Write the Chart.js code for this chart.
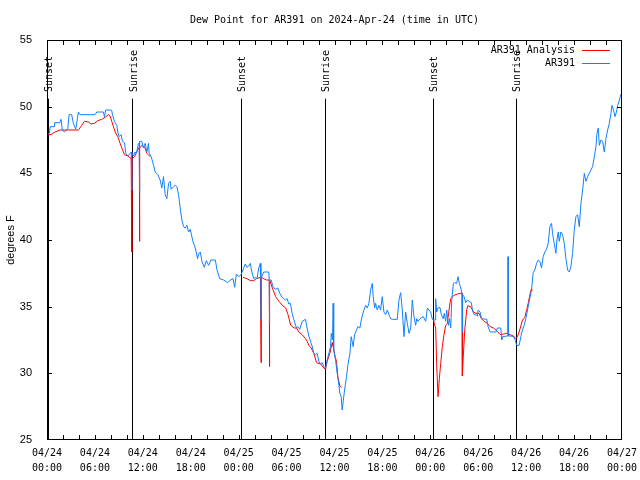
<!DOCTYPE html>
<html><head><meta charset="utf-8">
<script src="https://cdn.jsdelivr.net/npm/chart.js@4/dist/chart.umd.min.js"></script>
<style>html,body{margin:0;padding:0;background:#fff}</style>
</head><body>
<canvas id="c" width="640" height="480"></canvas>
<script>
// ---------- data ----------
const chartTitle = 'Dew Point for AR391 on 2024-Apr-24 (time in UTC)';
const yAxisTitle = 'degrees F';
// x in hours since 04/24 00:00 UTC
const xTickDates = ['04/24','04/24','04/24','04/24','04/25','04/25','04/25','04/25','04/26','04/26','04/26','04/26','04/27'];
const xTickTimes = ['00:00','06:00','12:00','18:00','00:00','06:00','12:00','18:00','00:00','06:00','12:00','18:00','00:00'];
const eventHours  = [0.15, 10.70, 24.25, 34.79, 48.33, 58.74];
const eventLabels = ['Sunset','Sunrise','Sunset','Sunrise','Sunset','Sunrise'];
const seriesNames = ['AR391 Analysis','AR391'];

const blueHours = [0.15,0.3,0.4,0.9,0.95,1.6,1.76,1.92,2.17,2.47,2.6,2.76,3.09,3.30,3.60,3.93,4.14,6.02,6.23,7.07,7.19,7.36,7.90,8.11,8.20,8.45,8.74,8.86,9.03,9.28,9.45,9.70,9.87,10.12,10.41,10.55,10.60,10.64,10.83,11.0,11.2,11.46,11.55,11.58,11.62,11.87,12.08,12.29,12.50,12.71,12.79,13.05,13.34,13.55,13.88,14.17,14.38,14.59,14.80,15.01,15.22,15.43,15.55,15.85,16.06,16.27,16.47,16.68,16.89,17.10,17.31,17.52,17.73,17.94,
18.27,18.57,18.86,18.99,19.19,19.40,19.70,19.95,20.24,20.53,21.08,21.29,21.62,22.12,22.62,22.96,23.29,23.50,23.71,24.0,24.30,24.63,24.84,25.05,25.26,25.47,25.59,25.88,26.09,26.30,26.51,26.72,26.78,26.80,26.84,27.14,27.77,27.83,27.85,27.89,28.06,28.31,28.60,28.90,29.15,29.44,29.65,29.86,30.07,30.27,30.48,30.69,30.90,31.24,31.40,31.65,31.95,32.37,32.57,32.78,33.08,33.20,33.41,33.62,33.83,34.04,34.25,34.46,34.67,34.87,35.08,35.29,35.50,35.6,35.75,35.83,35.9,
36.13,36.34,36.55,36.67,36.84,36.96,37.09,37.26,37.51,37.67,37.93,38.09,38.34,38.51,38.76,38.93,39.18,39.35,39.60,39.89,40.10,40.31,40.52,40.73,40.85,41.02,41.14,41.35,41.56,41.77,41.98,42.19,42.40,42.61,42.82,43.03,43.24,43.86,44.07,44.28,44.49,44.70,44.91,45.12,45.33,45.54,45.74,45.95,46.16,46.30,46.45,46.71,47.12,47.42,47.63,47.83,48.04,48.25,48.46,48.62,48.67,48.8,48.96,49.2,49.38,49.6,49.75,49.92,50.05,50.26,50.4,50.55,50.68,50.89,51.05,51.3,51.47,51.64,51.81,52.0,52.02,52.06,52.22,52.43,52.64,52.85,53.14,53.27,53.48,53.69,53.9,53.98,54.23,54.4,55.07,55.23,55.48,56.2,56.4,56.82,56.95,57.07,57.58,57.72,57.74,57.76,58.08,58.41,58.58,58.83,59.12,59.33,
59.54,59.75,59.96,60.17,60.38,60.59,60.71,60.88,61.09,61.3,61.51,61.72,61.92,62.13,62.34,62.55,62.76,62.97,63.18,63.3,63.51,63.72,63.85,64.02,64.14,64.35,64.56,64.77,64.98,65.19,65.4,65.6,65.81,66.02,66.23,66.44,66.65,66.86,67.07,67.28,67.49,67.7,68.11,68.32,68.53,68.74,68.87,69.03,69.16,69.37,69.58,69.78,69.99,70.2,70.41,70.62,70.75,70.95,71.12,71.3,71.46,71.67,71.88];
const blueDew = [48.0,48.0,48.5,48.5,48.8,48.8,49.05,48.25,48.1,48.25,48.3,49.4,49.4,48.75,48.3,49.6,49.4,49.4,49.6,49.6,49.25,49.75,49.75,49.7,49.4,48.9,48.6,48.1,47.75,47.9,47.4,47.3,46.5,46.3,46.5,46.6,43.75,46.5,46.3,46.6,46.5,47.25,47.25,43.55,47.4,47.4,46.9,47.25,46.6,47.25,46.5,46.25,45.6,45.1,44.9,44.5,43.9,44.75,43.4,43.1,44.25,44.4,43.8,44.0,44.1,44.0,43.4,42.4,41.5,41.0,40.9,41.1,40.6,40.8,
39.9,39.4,38.6,38.95,39.1,38.4,37.95,38.45,38.1,38.5,38.5,37.75,37.1,37.0,36.8,37.0,37.1,36.45,37.45,37.25,37.4,37.9,38.2,37.95,38.05,38.25,37.75,37.1,37.2,37.1,37.9,38.25,37.2,34.0,37.2,37.6,37.6,37.0,33.75,37.0,37.0,36.5,36.3,36.4,36.0,35.7,35.6,35.5,35.6,35.2,35.25,34.5,34.05,33.4,33.5,33.3,33.9,34.05,33.4,32.8,32.25,32.05,31.5,31.4,31.5,30.9,30.7,30.8,30.5,30.4,31.0,31.5,32.0,33.0,32.5,35.25,31.75,
31.0,30.0,29.1,28.5,28.25,27.25,27.9,28.75,29.75,30.6,31.5,32.75,32.0,32.9,33.25,33.5,33.4,34.0,34.6,35.1,34.9,35.25,36.25,36.75,35.75,34.9,35.25,34.75,35.1,34.75,35.75,34.6,34.4,34.75,34.4,34.1,34.05,34.05,35.5,36.05,34.75,32.75,34.6,33.75,33.0,33.4,35.5,34.25,33.6,34.1,33.9,34.1,34.25,33.9,34.9,34.75,34.6,34.05,34.0,34.0,35.6,34.6,34.9,34.95,34.4,34.1,34.5,33.9,34.75,33.6,34.1,33.4,35.5,36.75,36.8,36.75,37.25,36.75,36.4,35.9,33.1,35.9,35.75,35.3,35.5,35.4,35.3,34.75,34.4,34.4,34.3,34.75,34.6,34.1,34.05,33.5,33.1,33.1,33.4,33.4,32.5,32.75,32.8,32.8,38.75,32.8,32.8,32.75,32.55,32.1,32.1,32.75,
33.25,33.6,34.1,34.75,35.4,36.0,36.5,37.55,37.75,38.25,38.5,38.4,37.9,38.75,39.1,39.3,39.75,41.0,41.25,40.5,39.75,39.0,40.0,40.6,39.9,40.6,40.4,39.75,38.6,37.75,37.6,38.0,39.0,40.75,41.75,41.9,41.0,42.75,43.75,45.0,44.4,44.75,45.25,45.5,46.25,47.0,48.0,48.4,47.1,47.5,47.4,46.6,47.6,48.25,48.75,49.5,50.1,49.7,49.25,49.6,50.1,50.5,50.95];

// analysis series (null = no analysis)
const redHours = [0.15,0.5,1.0,1.63,3.93,4.35,4.68,5.18,5.52,5.94,6.36,6.86,7.27,7.69,7.90,8.11,8.53,8.86,9.16,9.37,9.70,10.12,10.54,10.60,10.62,10.66,10.96,11.46,11.56,11.58,11.62,11.87,12.29,12.50,12.92,13.0,
24.54,25.04,25.46,25.88,26.22,26.72,26.78,26.80,26.84,27.14,27.47,27.83,27.85,27.89,28.22,28.63,29.05,29.47,29.89,30.18,30.52,30.94,31.24,31.53,31.95,32.37,32.58,32.79,33.08,33.41,33.75,34.25,34.67,34.88,35.08,35.42,35.71,35.8,36.1,36.25,36.42,36.67,36.9,37.0,
48.4,48.55,48.67,48.79,48.96,49.13,49.30,49.5,49.71,49.92,50.13,50.34,50.55,50.97,51.39,51.81,51.98,52.01,52.1,52.31,52.56,52.73,52.85,53.06,53.4,53.69,54.1,54.4,54.73,55.15,55.48,55.9,56.32,56.74,57.16,57.58,58.0,58.41,58.7,58.91,59.12,59.33,59.54,59.83,60.08,60.25,60.42,60.59,60.84];
const redDew = [47.9,47.9,48.1,48.25,48.25,48.6,48.9,48.85,48.7,48.75,48.95,49.05,49.2,49.4,49.3,48.9,48.1,47.75,47.25,46.9,46.4,46.3,46.1,46.1,39.1,46.1,46.25,46.9,46.9,39.9,46.9,47.1,46.9,46.5,46.25,null,
37.2,37.1,36.95,36.95,37.1,37.2,37.2,30.8,37.2,37.1,37.0,37.0,30.5,37.0,36.4,35.75,35.4,35.1,34.9,34.4,33.6,33.4,33.4,33.1,32.9,32.6,32.4,32.1,31.9,31.5,30.8,30.7,30.4,30.3,30.9,31.5,32.3,32.1,31.2,30.9,29.75,29.05,28.95,null,
34.0,33.6,33.4,30.75,28.25,29.6,30.75,32.0,32.9,33.6,33.75,34.75,35.6,35.85,35.95,36.0,36.0,29.8,31.0,33.25,34.8,35.1,35.0,35.0,34.6,34.5,34.5,34.1,33.9,33.75,33.5,33.4,33.2,32.9,32.95,33.0,32.9,32.8,32.6,32.75,33.1,33.55,34.0,34.2,34.8,35.25,35.75,36.25,36.25];

const RED = '#ff0000', BLUE = '#1080ff';
const MONO = '"DejaVu Sans Mono", monospace';
const SANS = '"Liberation Sans", Arial, sans-serif';

function pts(xs, ys){ return xs.map((x,i)=>({x:x, y:ys[i]})); }

const decor = {
  id: 'decor',
  beforeDatasetsDraw(chart){
    const {ctx, chartArea:a, scales:{x, y}} = chart;
    ctx.save();
    ctx.strokeStyle = '#000'; ctx.lineWidth = 1;
    const lineTop = y.getPixelForValue(50.6);
    eventHours.forEach(h => {
      const px = Math.round(x.getPixelForValue(h)) + 0.5;
      ctx.beginPath(); ctx.moveTo(px, lineTop); ctx.lineTo(px, a.bottom); ctx.stroke();
    });
    ctx.restore();
  },
  afterDatasetsDraw(chart){
    const {ctx, chartArea:a, scales:{x, y}} = chart;
    ctx.save();
    ctx.strokeStyle = '#000'; ctx.lineWidth = 1;
    // frame
    ctx.strokeRect(Math.round(a.left)+0.5, Math.round(a.top)+0.5, Math.round(a.right-a.left)-1, Math.round(a.bottom-a.top)-1);
    // inward tick marks
    ctx.beginPath();
    for (let h = 2; h < 72; h += 2) {
      const px = Math.round(x.getPixelForValue(h)) + 0.5;
      ctx.moveTo(px, a.top); ctx.lineTo(px, a.top + 5);
      ctx.moveTo(px, a.bottom); ctx.lineTo(px, a.bottom - 5);
    }
    for (let v = 30; v < 55; v += 5) {
      const py = Math.round(y.getPixelForValue(v)) + 0.5;
      ctx.moveTo(a.left, py); ctx.lineTo(a.left + 5, py);
      ctx.moveTo(a.right, py); ctx.lineTo(a.right - 5, py);
    }
    ctx.stroke();
    // sunrise / sunset labels (read bottom-to-top, starting just above the line)
    ctx.fillStyle = '#000';
    ctx.font = '10px ' + MONO;
    ctx.textAlign = 'left'; ctx.textBaseline = 'middle';
    const labelStart = y.getPixelForValue(51.1);
    eventHours.forEach((h, i) => {
      const px = x.getPixelForValue(h) + 1.5;
      ctx.save(); ctx.translate(px, labelStart); ctx.rotate(-Math.PI/2);
      ctx.fillText(eventLabels[i], 0, 0); ctx.restore();
    });
    // title
    ctx.textAlign = 'center'; ctx.textBaseline = 'middle';
    ctx.fillText(chartTitle, (a.left + a.right)/2, 20);
    // legend
    const colors = [RED, BLUE];
    ctx.textAlign = 'right';
    seriesNames.forEach((n, i) => {
      const yy = 50 + i*13;
      ctx.fillStyle = '#000';
      ctx.fillText(n, 575, yy);
      ctx.strokeStyle = colors[i];
      ctx.beginPath(); ctx.moveTo(582, yy + 0.5); ctx.lineTo(610, yy + 0.5); ctx.stroke();
    });
    ctx.restore();
  }
};

new Chart(document.getElementById('c'), {
  type: 'line',
  data: {
    datasets: [
      { label: seriesNames[1], data: pts(blueHours, blueDew), borderColor: BLUE, borderWidth: 1, pointRadius: 0, tension: 0, order: 1 },
      { label: seriesNames[0], data: pts(redHours, redDew), borderColor: RED, borderWidth: 1, pointRadius: 0, tension: 0, spanGaps: false, order: 2 }
    ]
  },
  options: {
    responsive: false, animation: false, devicePixelRatio: 1,
    layout: { padding: { top: 40, right: 18, left: 0, bottom: 0 } },
    plugins: { legend: { display: false }, tooltip: { enabled: false }, title: { display: false } },
    scales: {
      x: {
        type: 'linear', min: 0, max: 72, position: 'bottom',
        grid: { display: false }, border: { display: false },
        afterFit: s => { s.height = 40; s.paddingLeft = 0; s.paddingRight = 0; },
        ticks: {
          stepSize: 6, autoSkip: false, maxRotation: 0, minRotation: 0, padding: -2, color: '#000',
          font: { family: MONO, size: 10, lineHeight: 1.5 },
          callback: (v) => { const i = Math.round(v/6); return [xTickDates[i], xTickTimes[i]]; }
        }
      },
      y: {
        min: 25, max: 55,
        grid: { display: false }, border: { display: false },
        afterFit: s => { s.width = 47; s.paddingTop = 0; s.paddingBottom = 0; },
        ticks: { stepSize: 5, padding: 7, color: '#000', font: { family: SANS, size: 11 } },
        title: { display: true, text: yAxisTitle, color: '#000', font: { family: SANS, size: 11 }, padding: { top: 4, bottom: 0 } }
      }
    }
  },
  plugins: [decor]
});
</script>
</body></html>
